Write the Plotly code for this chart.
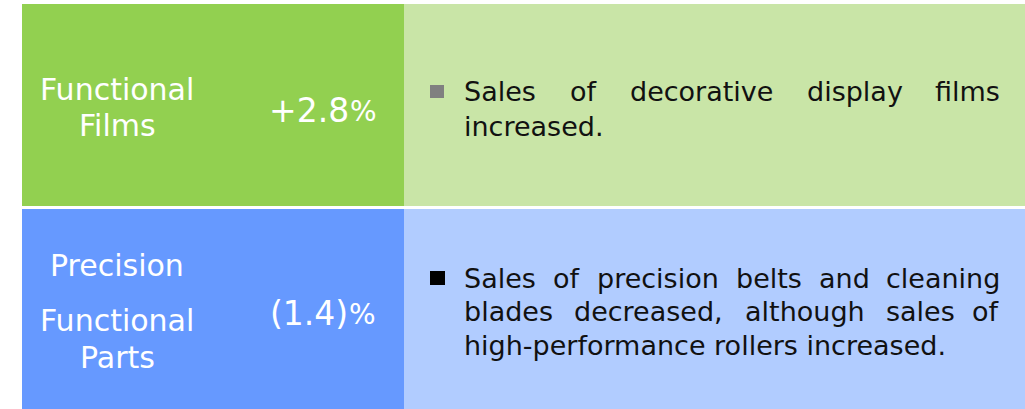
import plotly.graph_objects as go

# ---- data ----
segments = [["Functional", "Films"], ["Precision", "Functional", "Parts"]]
change_values = ["+2.8", "(1.4)"]
change_units = ["%", "%"]
desc_lines = [
    [["Sales", "of", "decorative", "display", "films"], ["increased."]],
    [["Sales", "of", "precision", "belts", "and", "cleaning"],
     ["blades", "decreased,", "although", "sales", "of"],
     ["high-performance rollers increased."]],
]

# ---- layout / style ----
W, H = 1025, 409
dark_cols = ["#92D050", "#6699FF"]
light_cols = ["#C9E5A7", "#B1CCFF"]
bullet_cols = ["#808080", "#000000"]
row_y = [(4, 206), (209, 410)]
x_left, x_mid, x_right = 22, 404, 1026
seg_line_y = [[89, 125], [265, 320, 357]]
chg_y = [110, 313]
chg_xr = [350, 349]
desc_line_y = [[91, 126], [278, 311, 345]]
bullet_box = [(430, 85, 444, 98), (430, 271, 445, 285)]
text_x0, text_x1 = 463, 1001
FONT = "DejaVu Sans"
DESC_SIZE = 27

# approximate DejaVu Sans advance widths (1/1000 em) for text justification
CW = {"a": 613, "b": 635, "c": 550, "d": 635, "e": 615, "f": 352, "g": 635, "h": 634,
      "i": 278, "l": 278, "m": 974, "n": 634, "o": 612, "p": 635, "r": 411, "s": 521,
      "t": 392, "u": 634, "v": 592, "y": 592, "S": 635, ",": 318, ".": 318, "-": 361}


def text_w(word, size):
    return sum(CW.get(ch, 600) for ch in word) * size / 1000.0


fig = go.Figure()
fig.add_trace(go.Scatter(x=[0, W], y=[0, H], mode="markers",
                         marker=dict(opacity=0), hoverinfo="skip", showlegend=False))

shapes = []
ann = []
for i in range(2):
    y0, y1 = row_y[i]
    shapes.append(dict(type="rect", xref="x", yref="y", x0=x_left, x1=x_mid, y0=y0, y1=y1,
                       fillcolor=dark_cols[i], line=dict(width=0), layer="below"))
    shapes.append(dict(type="rect", xref="x", yref="y", x0=x_mid, x1=x_right, y0=y0, y1=y1,
                       fillcolor=light_cols[i], line=dict(width=0), layer="below"))
    bx0, by0, bx1, by1 = bullet_box[i]
    shapes.append(dict(type="rect", xref="x", yref="y", x0=bx0, x1=bx1, y0=by0, y1=by1,
                       fillcolor=bullet_cols[i], line=dict(width=0)))
    for t, yy in zip(segments[i], seg_line_y[i]):
        ann.append(dict(x=117, y=yy, text=t, xanchor="center", yanchor="middle",
                        font=dict(family=FONT, size=30, color="white")))
    ann.append(dict(x=chg_xr[i], y=chg_y[i], text=change_values[i], xanchor="right", yanchor="middle",
                    font=dict(family=FONT, size=33, color="white")))
    ann.append(dict(x=chg_xr[i] - 1, y=chg_y[i] + 1, text=change_units[i], xanchor="left", yanchor="middle",
                    font=dict(family=FONT, size=28, color="white")))
    lines = desc_lines[i]
    for li, words in enumerate(lines):
        yy = desc_line_y[i][li]
        dfont = dict(family=FONT, size=DESC_SIZE, color="#111111")
        if li == len(lines) - 1:
            ann.append(dict(x=text_x0, y=yy, text=" ".join(words), xanchor="left",
                            yanchor="middle", font=dfont))
            continue
        widths = [text_w(w, DESC_SIZE) for w in words]
        gap = (text_x1 - text_x0 - sum(widths)) / (len(words) - 1)
        xpos = text_x0
        for wi, (w, ww) in enumerate(zip(words, widths)):
            if wi == len(words) - 1:
                ann.append(dict(x=text_x1, y=yy, text=w, xanchor="right", yanchor="middle", font=dfont))
            else:
                ann.append(dict(x=xpos, y=yy, text=w, xanchor="left", yanchor="middle", font=dfont))
            xpos += ww + gap

for a in ann:
    a.update(xref="x", yref="y", showarrow=False, borderpad=0)

fig.update_layout(
    width=W, height=H, margin=dict(l=0, r=0, t=0, b=0),
    paper_bgcolor="white", plot_bgcolor="white",
    xaxis=dict(range=[0, W], visible=False, fixedrange=True),
    yaxis=dict(range=[H, 0], visible=False, fixedrange=True),
    shapes=shapes, annotations=ann, showlegend=False,
)
fig.write_html("out.html", config={"displayModeBar": False},
               post_script="document.body.style.margin='0';document.body.style.overflow='hidden';")
